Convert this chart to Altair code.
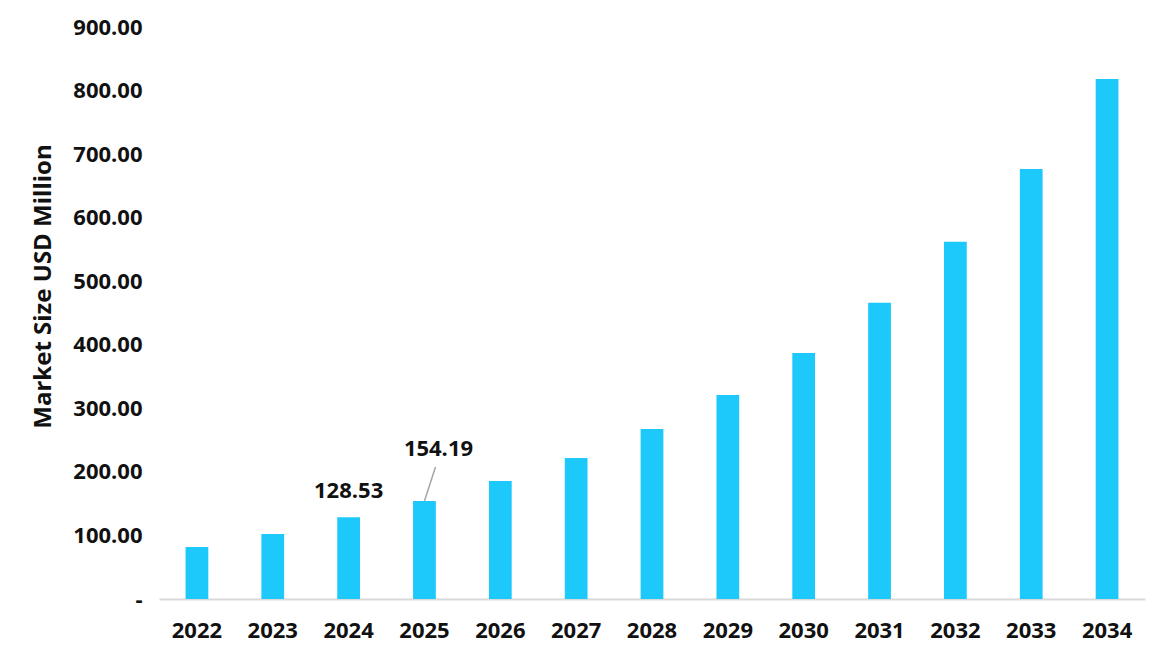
import altair as alt
import pandas as pd

years = ["2022", "2023", "2024", "2025", "2026", "2027", "2028",
         "2029", "2030", "2031", "2032", "2033", "2034"]
values = [81.8, 102.3, 128.53, 154.19, 185.7, 221.8, 267.5,
          321.0, 387.0, 466.0, 562.0, 676.5, 818.0]
labeled_years = ["2024", "2025"]
leader_years = ["2025"]

df = pd.DataFrame({"Year": years, "Value": values})
df["Label"] = df["Value"].map(lambda v: f"{v:.2f}")

FONT = "Open Sans"
BAR = "#1DC8FB"

x_enc = alt.X(
    "Year:N",
    sort=years,
    scale=alt.Scale(paddingInner=0.70, paddingOuter=0.35),
    axis=alt.Axis(
        title=None, labelAngle=0, ticks=False, domain=True,
        domainColor="#d9d9d9", domainWidth=2, labelPadding=21,
        labelFont=FONT, labelFontSize=22, labelFontWeight="bold",
        labelColor="#111111", grid=False,
    ),
)
y_enc = alt.Y(
    "Value:Q",
    scale=alt.Scale(domain=[0, 900], nice=False),
    axis=alt.Axis(
        title="Market Size USD Million",
        values=[0, 100, 200, 300, 400, 500, 600, 700, 800, 900],
        labelExpr="datum.value == 0 ? '-' : format(datum.value, '.2f')",
        ticks=False, domain=False, grid=False, labelPadding=17,
        labelFont=FONT, labelFontSize=22, labelFontWeight="bold",
        labelColor="#111111",
        titleFont=FONT, titleFontSize=24, titleFontWeight="bold",
        titleColor="#111111", titleX=-116, titleY=259,
        titleAlign="center", titleBaseline="middle", titleAngle=-90,
    ),
)

bars = alt.Chart(df).mark_bar(color=BAR).encode(x=x_enc, y=y_enc)

lab = alt.Chart(df).transform_filter(
    alt.FieldOneOfPredicate(field="Year", oneOf=["2024"])
).mark_text(font=FONT, fontSize=22, fontWeight="bold", color="#111111",
            dy=-26, baseline="middle").encode(
    x=alt.X("Year:N", sort=years), y="Value:Q", text="Label:N")

lab2 = alt.Chart(df).transform_filter(
    alt.FieldOneOfPredicate(field="Year", oneOf=leader_years)
).mark_text(font=FONT, fontSize=22, fontWeight="bold", color="#111111",
            dy=-52, dx=14, baseline="middle").encode(
    x=alt.X("Year:N", sort=years), y="Value:Q", text="Label:N")

leader = alt.Chart(df).transform_filter(
    alt.FieldOneOfPredicate(field="Year", oneOf=leader_years)
).mark_rule(color="#a6a6a6", strokeWidth=1.5, x2Offset=11, y2Offset=-34).encode(
    x=alt.X("Year:N", sort=years),
    x2="Year:N",
    y="Value:Q",
    y2="Value:Q",
)

chart = alt.layer(bars, leader, lab, lab2).properties(
    width=986, height=572,
    autosize=alt.AutoSizeParams(type="none"),
    padding={"left": 151, "top": 19, "right": 17, "bottom": 57},
    background="white",
).configure_view(stroke=None)

chart.save("out.html", embed_options={"renderer": "svg", "actions": False})
